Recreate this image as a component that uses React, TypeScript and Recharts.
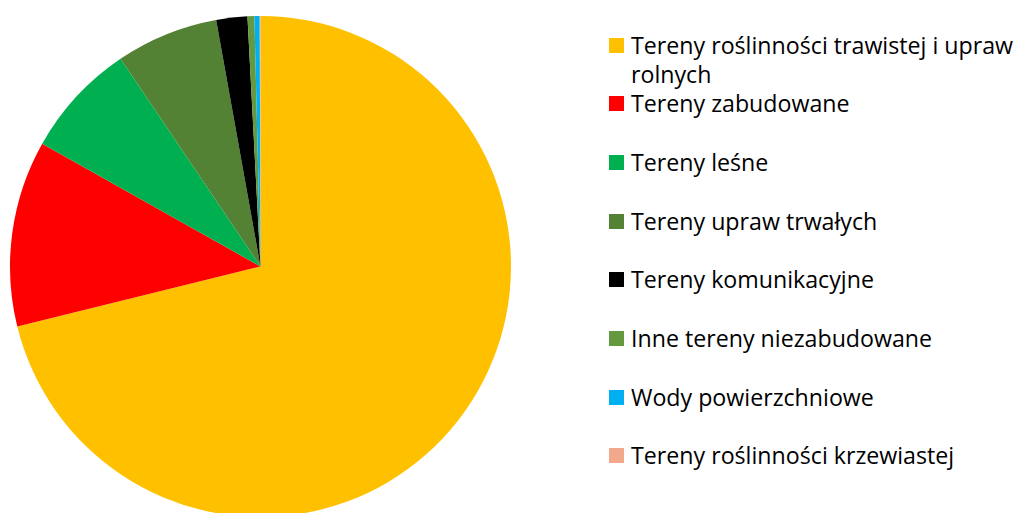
import { PieChart, Pie, Cell, Legend } from 'recharts';

const categories = [
  'Tereny roślinności trawistej i upraw rolnych',
  'Tereny zabudowane',
  'Tereny leśne',
  'Tereny upraw trwałych',
  'Tereny komunikacyjne',
  'Inne tereny niezabudowane',
  'Wody powierzchniowe',
  'Tereny roślinności krzewiastej',
];

const shares = [71.1, 12.0, 7.4, 6.6, 2.0, 0.44, 0.34, 0.05];

const colors = ['#FFC000', '#FF0000', '#00B050', '#548235', '#000000', '#65993F', '#00B0F0', '#F2A88A'];

const chartData = categories.map((name, i) => ({ name, value: shares[i] }));

// legend kept in data order (recharts would otherwise sort it)
const renderLegend = () => (
  <div style={{ fontFamily: '"Open Sans", sans-serif', fontSize: 23.2, color: '#000' }}>
    {categories.map((label, i) => (
      <div key={label} style={{ height: 58.7, display: 'flex', alignItems: 'flex-start' }}>
        <span
          style={{
            display: 'inline-block',
            width: 15,
            height: 15,
            marginTop: 7,
            marginRight: 7,
            flex: '0 0 15px',
            background: colors[i],
          }}
        />
        <span style={{ lineHeight: '29px', width: 400 }}>{label}</span>
      </div>
    ))}
  </div>
);

export default function App() {
  return (
    <div style={{ position: 'absolute', left: 0, top: 0, width: 1019, height: 513, background: '#fff' }}>
      <PieChart width={1019} height={513} margin={{ top: 0, right: 0, bottom: 0, left: 0 }}>
        <Pie
          data={chartData}
          dataKey="value"
          nameKey="name"
          cx={260.5}
          cy={266.5}
          outerRadius={250.5}
          startAngle={90}
          endAngle={-270}
          stroke="none"
          isAnimationActive={false}
        >
          {chartData.map((_, i) => (
            <Cell key={i} fill={colors[i]} />
          ))}
        </Pie>
        <Legend
          layout="vertical"
          align="right"
          verticalAlign="top"
          content={renderLegend}
          wrapperStyle={{ left: 609, top: 30.5, width: 410 }}
        />
      </PieChart>
    </div>
  );
}
